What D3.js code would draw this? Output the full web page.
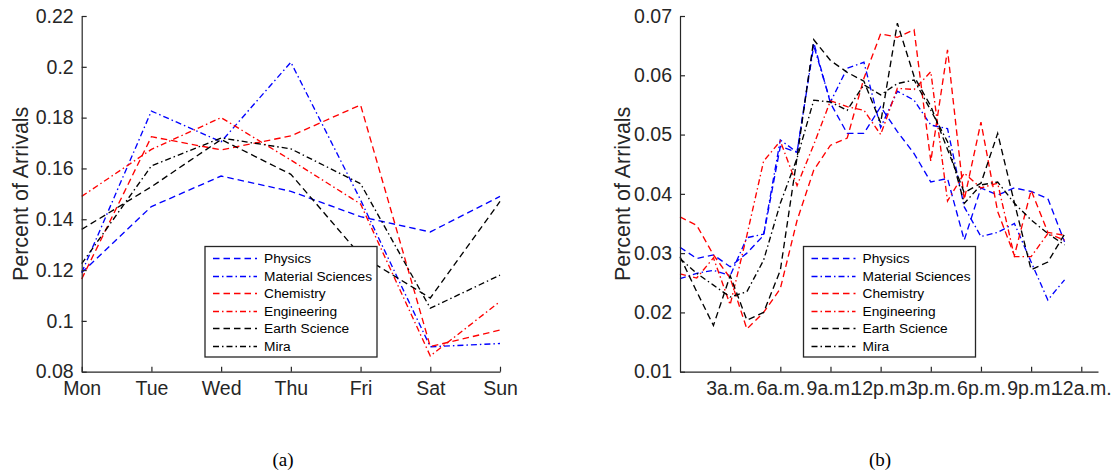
<!DOCTYPE html>
<html>
<head>
<meta charset="utf-8">
<script src="https://cdn.jsdelivr.net/npm/d3@7"></script>
<style>
  body { margin: 0; background: #fff; }
  svg { display: block; }
</style>
</head>
<body>
<svg id="fig" width="1114" height="470"></svg>
<script>
// ---- weekly arrival shares ----
const days = ["Mon", "Tue", "Wed", "Thu", "Fri", "Sat", "Sun"];
const dayPhysics     = [0.119, 0.145, 0.157, 0.151, 0.141, 0.135, 0.149];
const dayMaterial    = [0.119, 0.1826, 0.1705, 0.2018, 0.1476, 0.0898, 0.0911];
const dayChemistry   = [0.1165, 0.1725, 0.1673, 0.1728, 0.185, 0.0899, 0.0964];
const dayEngineering = [0.149, 0.1675, 0.180, 0.1633, 0.146, 0.0862, 0.1076];
const dayEarth       = [0.136, 0.1528, 0.1714, 0.1577, 0.1258, 0.109, 0.147];
const dayMira        = [0.1225, 0.161, 0.172, 0.1677, 0.154, 0.105, 0.118];
const dayTicks = [0.08, 0.1, 0.12, 0.14, 0.16, 0.18, 0.2, 0.22];

// ---- hourly arrival shares (hour of day 0..23) ----
const hours = [0, 1, 2, 3, 4, 5, 6, 7, 8, 9, 10, 11, 12, 13, 14, 15, 16, 17, 18, 19, 20, 21, 22, 23];
const hourPhysics     = [0.0310, 0.0291, 0.0297, 0.0277, 0.0300, 0.0330, 0.0480, 0.0470, 0.0655, 0.0553, 0.0502, 0.0502,
                         0.0547, 0.0505, 0.0468, 0.0420, 0.0426, 0.0322, 0.0410, 0.0398, 0.0410, 0.0404, 0.0392, 0.0319];
const hourMaterial    = [0.0257, 0.0266, 0.0271, 0.0262, 0.0326, 0.0332, 0.0491, 0.0470, 0.0650, 0.0555, 0.0612, 0.0622,
                         0.0512, 0.0573, 0.0558, 0.0516, 0.0510, 0.0378, 0.0328, 0.0335, 0.0350, 0.0285, 0.0221, 0.0255];
const hourChemistry   = [0.0361, 0.0347, 0.0297, 0.0258, 0.0172, 0.0200, 0.0240, 0.0355, 0.0440, 0.0482, 0.0494, 0.0595,
                         0.0670, 0.0664, 0.0677, 0.0455, 0.0643, 0.0390, 0.0521, 0.0370, 0.0296, 0.0406, 0.0335, 0.0330];
const hourEngineering = [0.0265, 0.0258, 0.0292, 0.0213, 0.0330, 0.0455, 0.0489, 0.0414, 0.0483, 0.0557, 0.0547, 0.0541,
                         0.0500, 0.0578, 0.0576, 0.0606, 0.0388, 0.0435, 0.0410, 0.0418, 0.0294, 0.0294, 0.0333, 0.0322];
const hourEarth       = [0.0294, 0.0235, 0.0178, 0.0262, 0.0187, 0.0200, 0.0271, 0.0461, 0.0660, 0.0625, 0.0605, 0.0590,
                         0.0520, 0.0688, 0.0598, 0.0548, 0.0475, 0.0402, 0.0418, 0.0502, 0.0385, 0.0272, 0.0285, 0.0332];
const hourMira        = [0.0291, 0.0266, 0.0246, 0.0226, 0.0235, 0.0288, 0.0384, 0.0460, 0.0558, 0.0555, 0.0541, 0.0584,
                         0.0567, 0.0586, 0.0592, 0.0541, 0.0488, 0.0384, 0.0415, 0.0420, 0.0384, 0.0356, 0.0333, 0.0314];
const hourTickValues = [3, 6, 9, 12, 15, 18, 21, 24];
const hourTickLabels = ["3a.m.", "6a.m.", "9a.m.", "12p.m.", "3p.m.", "6p.m.", "9p.m.", "12a.m."];
const hourTicks = [0.01, 0.02, 0.03, 0.04, 0.05, 0.06, 0.07];

const seriesNames = ["Physics", "Material Sciences", "Chemistry", "Engineering", "Earth Science", "Mira"];

// ---- styling ----
const DASH = "6.5,4";
const DASHDOT = "6,3,1.5,3";
const styles = [
  { color: "#0000ff", dash: DASH },
  { color: "#0000ff", dash: DASHDOT },
  { color: "#ff0000", dash: DASH },
  { color: "#ff0000", dash: DASHDOT },
  { color: "#000000", dash: DASH },
  { color: "#000000", dash: DASHDOT }
];
const LINE_W = 1.35;
const AXIS_COLOR = "#262626";
const SANS = "'Liberation Sans', Arial, Helvetica, sans-serif";
const SERIF = "'Liberation Serif', 'Times New Roman', serif";

const svg = d3.select("#fig");

function styleAxis(g) {
  g.select(".domain").attr("stroke", AXIS_COLOR).attr("stroke-width", 1.2);
  g.selectAll(".tick line").attr("stroke", AXIS_COLOR).attr("stroke-width", 1.2);
  g.selectAll(".tick text")
    .attr("fill", AXIS_COLOR)
    .style("font-family", SANS)
    .style("font-size", "19.5px");
}

function drawPanel(opts) {
  const { x, y, xs, seriesData, top, bottom, left, legend, labelX, caption, captionX } = opts;
  const g = svg.append("g");

  // series lines
  const line = d3.line().x((d, i) => x(xs[i])).y(d => y(d));
  seriesData.forEach((vals, k) => {
    g.append("path")
      .datum(vals)
      .attr("fill", "none")
      .attr("stroke", styles[k].color)
      .attr("stroke-width", LINE_W)
      .attr("stroke-dasharray", styles[k].dash)
      .attr("d", line);
  });

  // axes with inward ticks
  const gx = g.append("g").attr("transform", `translate(0,${bottom})`).call(opts.xAxis);
  styleAxis(gx);
  gx.selectAll(".tick text").attr("dy", "0.95em");
  const gy = g.append("g").attr("transform", `translate(${left},0)`).call(opts.yAxis);
  styleAxis(gy);

  // y label
  g.append("text")
    .attr("transform", `translate(${labelX},${(top + bottom) / 2}) rotate(-90)`)
    .attr("text-anchor", "middle")
    .attr("dominant-baseline", "central")
    .attr("fill", AXIS_COLOR)
    .style("font-family", SANS)
    .style("font-size", "21.5px")
    .text("Percent of Arrivals");

  // legend box
  const lg = g.append("g").attr("transform", `translate(${legend.x},${legend.y})`);
  lg.append("rect")
    .attr("width", legend.w).attr("height", legend.h)
    .attr("fill", "#fff").attr("stroke", AXIS_COLOR).attr("stroke-width", 1.3);
  seriesNames.forEach((name, k) => {
    const cy = Math.round(12 + k * 17.5);
    const row = lg.append("g").attr("transform", `translate(0,${cy})`);
    row.append("path")
      .attr("d", "M8,0H52")
      .attr("fill", "none")
      .attr("stroke", styles[k].color)
      .attr("stroke-width", LINE_W)
      .attr("stroke-dasharray", styles[k].dash);
    row.append("text")
      .attr("x", 59).attr("y", 0)
      .attr("dominant-baseline", "central")
      .attr("fill", "#000")
      .style("font-family", SANS)
      .style("font-size", "13.7px")
      .text(name);
  });

  // panel caption
  svg.append("text")
    .attr("x", captionX).attr("y", 466)
    .attr("text-anchor", "middle")
    .attr("fill", "#000")
    .style("font-family", SERIF)
    .style("font-size", "19px")
    .text(caption);
}

// ---- panel (a): day of week ----
{
  const left = 81.7, right = 500, top = 16, bottom = 371.7;
  const x = d3.scalePoint().domain(days).range([left, right]).padding(0);
  const y = d3.scaleLinear().domain([0.08, 0.22]).range([bottom, top]);
  drawPanel({
    x, y, xs: days,
    seriesData: [dayPhysics, dayMaterial, dayChemistry, dayEngineering, dayEarth, dayMira],
    top, bottom, left,
    xAxis: d3.axisBottom(x).tickSizeInner(-5).tickSizeOuter(0).tickPadding(5),
    yAxis: d3.axisLeft(y).tickValues(dayTicks).tickFormat(d => String(+d.toFixed(2)))
      .tickSizeInner(-5).tickSizeOuter(0).tickPadding(8),
    legend: { x: 205, y: 246.5, w: 172, h: 110.5 },
    labelX: 21, caption: "(a)", captionX: 283
  });
}

// ---- panel (b): hour of day ----
{
  const left = 680, right = 1098, top = 16, bottom = 371.7;
  const x = d3.scaleLinear().domain([0, 25]).range([left, right]);
  const y = d3.scaleLinear().domain([0.01, 0.07]).range([bottom, top]);
  drawPanel({
    x, y, xs: hours,
    seriesData: [hourPhysics, hourMaterial, hourChemistry, hourEngineering, hourEarth, hourMira],
    top, bottom, left,
    xAxis: d3.axisBottom(x).tickValues(hourTickValues)
      .tickFormat((d, i) => hourTickLabels[i])
      .tickSizeInner(-5).tickSizeOuter(0).tickPadding(5),
    yAxis: d3.axisLeft(y).tickValues(hourTicks).tickFormat(d => String(+d.toFixed(2)))
      .tickSizeInner(-5).tickSizeOuter(0).tickPadding(8),
    legend: { x: 803.5, y: 246.5, w: 172, h: 110.5 },
    labelX: 623, caption: "(b)", captionX: 880
  });
}
</script>
</body>
</html>
